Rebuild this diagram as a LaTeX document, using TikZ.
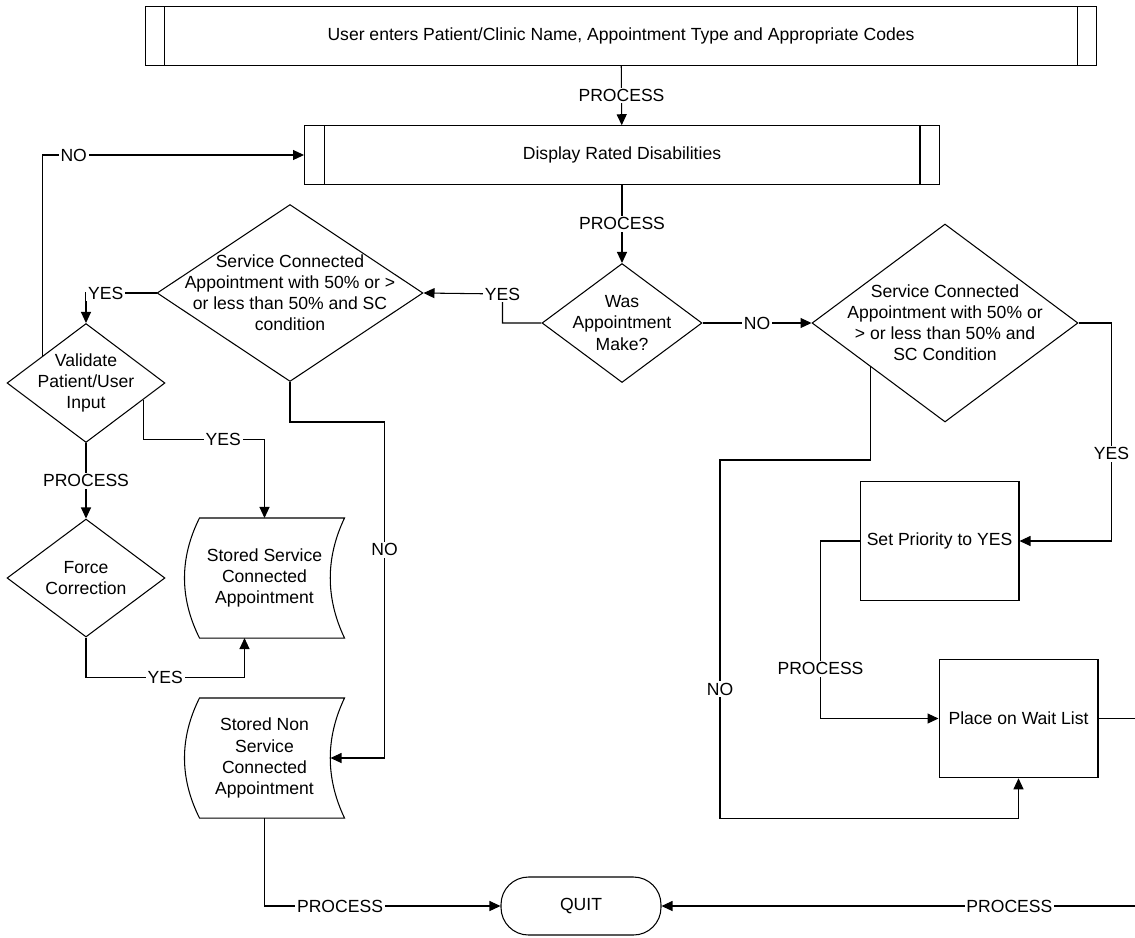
\documentclass[tikz,border=0pt]{standalone}
\usepackage{fontspec}
\setmainfont{Liberation Sans}
\usetikzlibrary{shapes.geometric,arrows.meta,calc}

\begin{document}
\begin{tikzpicture}[x=0.02cm,y=-0.02cm,line width=0.6pt,
  every node/.style={font=\fontsize{10}{12}\selectfont},
  predef/.style={draw,rectangle,minimum height=1.17cm},
  procbox/.style={draw,rectangle,minimum width=3.18cm,minimum height=2.37cm},
  decision/.style={draw,diamond,inner sep=0pt},
  stored/.style={minimum width=3.18cm,minimum height=2.38cm,align=center,inner sep=0pt},
  term/.style={draw,rectangle,rounded corners=0.55cm,minimum width=3.2cm,minimum height=1.16cm},
  lbl/.style={fill=white,inner sep=1pt},
  arr/.style={-{Triangle[length=0.22cm,width=0.2cm]}}]
\useasboundingbox (0,0) rectangle (1135,937);

\node[predef,minimum width=19.04cm] (enter) at (621,36) {User enters Patient/Clinic Name, Appointment Type and Appropriate Codes};
\node[predef,minimum width=12.7cm] (display) at (622,155) {Display Rated Disabilities};
\node[decision,minimum width=3.2cm,minimum height=2.38cm,
  label={[align=center]center:Was\\Appointment\\Make?}] (wasmade) at (622,323) {};
\node[decision,minimum width=5.32cm,minimum height=3.96cm,
  label={[align=center]center:Service Connected\\Appointment with 50\% or\\> or less than 50\% and\\SC Condition}] (scright) at (945,323) {};
\node[decision,minimum width=5.32cm,minimum height=3.54cm,
  label={[align=center]center:Service Connected\\Appointment with 50\% or >\\or less than 50\% and SC\\condition}] (scleft) at (290,293) {};
\node[decision,minimum width=3.16cm,minimum height=2.38cm,
  label={[align=center]center:Validate\\Patient/User\\Input}] (validate) at (86,383) {};
\node[decision,minimum width=3.16cm,minimum height=2.36cm,
  label={[align=center]center:Force\\Correction}] (force) at (86,578) {};
\node[stored] (storsc) at (264.5,578) {Stored Service\\Connected\\Appointment};
\node[stored] (stornsc) at (264.5,758) {Stored Non\\Service\\Connected\\Appointment};
\node[procbox] (setprio) at (939.5,541) {Set Priority to YES};
\node[procbox] (place) at (1018.5,718.5) {Place on Wait List};
\node[term] (quit) at (581,906) {QUIT};

\foreach \n in {enter,display}
  \draw ($(\n.north west)+(20,0)$) -- ($(\n.south west)+(20,0)$)
        ($(\n.north east)+(-20,0)$) -- ($(\n.south east)+(-20,0)$);
\foreach \n in {storsc,stornsc}
  \draw ($(\n.north west)+(15,0)$) .. controls ($(\n.north west)+(-5,40)$) and ($(\n.south west)+(-5,-40)$) .. ($(\n.south west)+(15,0)$)
     -- (\n.south east) .. controls ($(\n.south east)+(-19,-40)$) and ($(\n.north east)+(-19,40)$) .. (\n.north east) -- cycle;

\draw[arr] (enter) -- node[lbl]{PROCESS} (display);
\draw[arr] (display) -- node[lbl]{PROCESS} (wasmade);
\draw[arr] (wasmade.west) -- ++(-39,0) -- ++(0,-29) node[lbl]{YES} -- (scleft.east);
\draw[arr] (wasmade.east) -- node[lbl]{NO} (scright.west);
\draw[arr] (scright.east) -- ++(33,0) |- node[lbl,pos=0.3]{YES} (setprio.east);
\draw[arr] ($(scright.west)!0.44!(scright.south)$) |- (720,460) |- node[lbl,pos=0.32]{NO} ($(place.south)+(0,40)$) -- (place.south);
\draw[arr] (setprio.west) -- ++(-39,0) |- node[lbl,pos=0.36]{PROCESS} (place.west);
\draw[arr] (place.east) -- ++(60,0) |- node[lbl,pos=0.65]{PROCESS} (quit.east);
\draw[arr] (scleft.west) -| node[lbl,pos=0.36]{YES} (validate.north);
\draw[arr] ($(validate.west)!0.45!(validate.north)$) |- node[lbl,pos=0.56]{NO} (display.west);
\draw[arr] ($(validate.east)!0.28!(validate.south)$) -- ++(0,40) -| node[lbl,pos=0.33]{YES} (storsc.north);
\draw[arr] (validate) -- node[lbl]{PROCESS} (force);
\draw[arr] (force.south) -- ++(0,40) -| node[lbl,pos=0.25]{YES} ($(storsc.south)+(-20,0)$);
\draw[arr] (scleft.south) -- ++(0,40) -| node[lbl,pos=0.69]{NO} ($(stornsc.east)+(40,0)$) -- ($(stornsc.east)+(-14,0)$);
\draw[arr] (stornsc.south) |- node[lbl,pos=0.66]{PROCESS} (quit.west);

\end{tikzpicture}
\end{document}
